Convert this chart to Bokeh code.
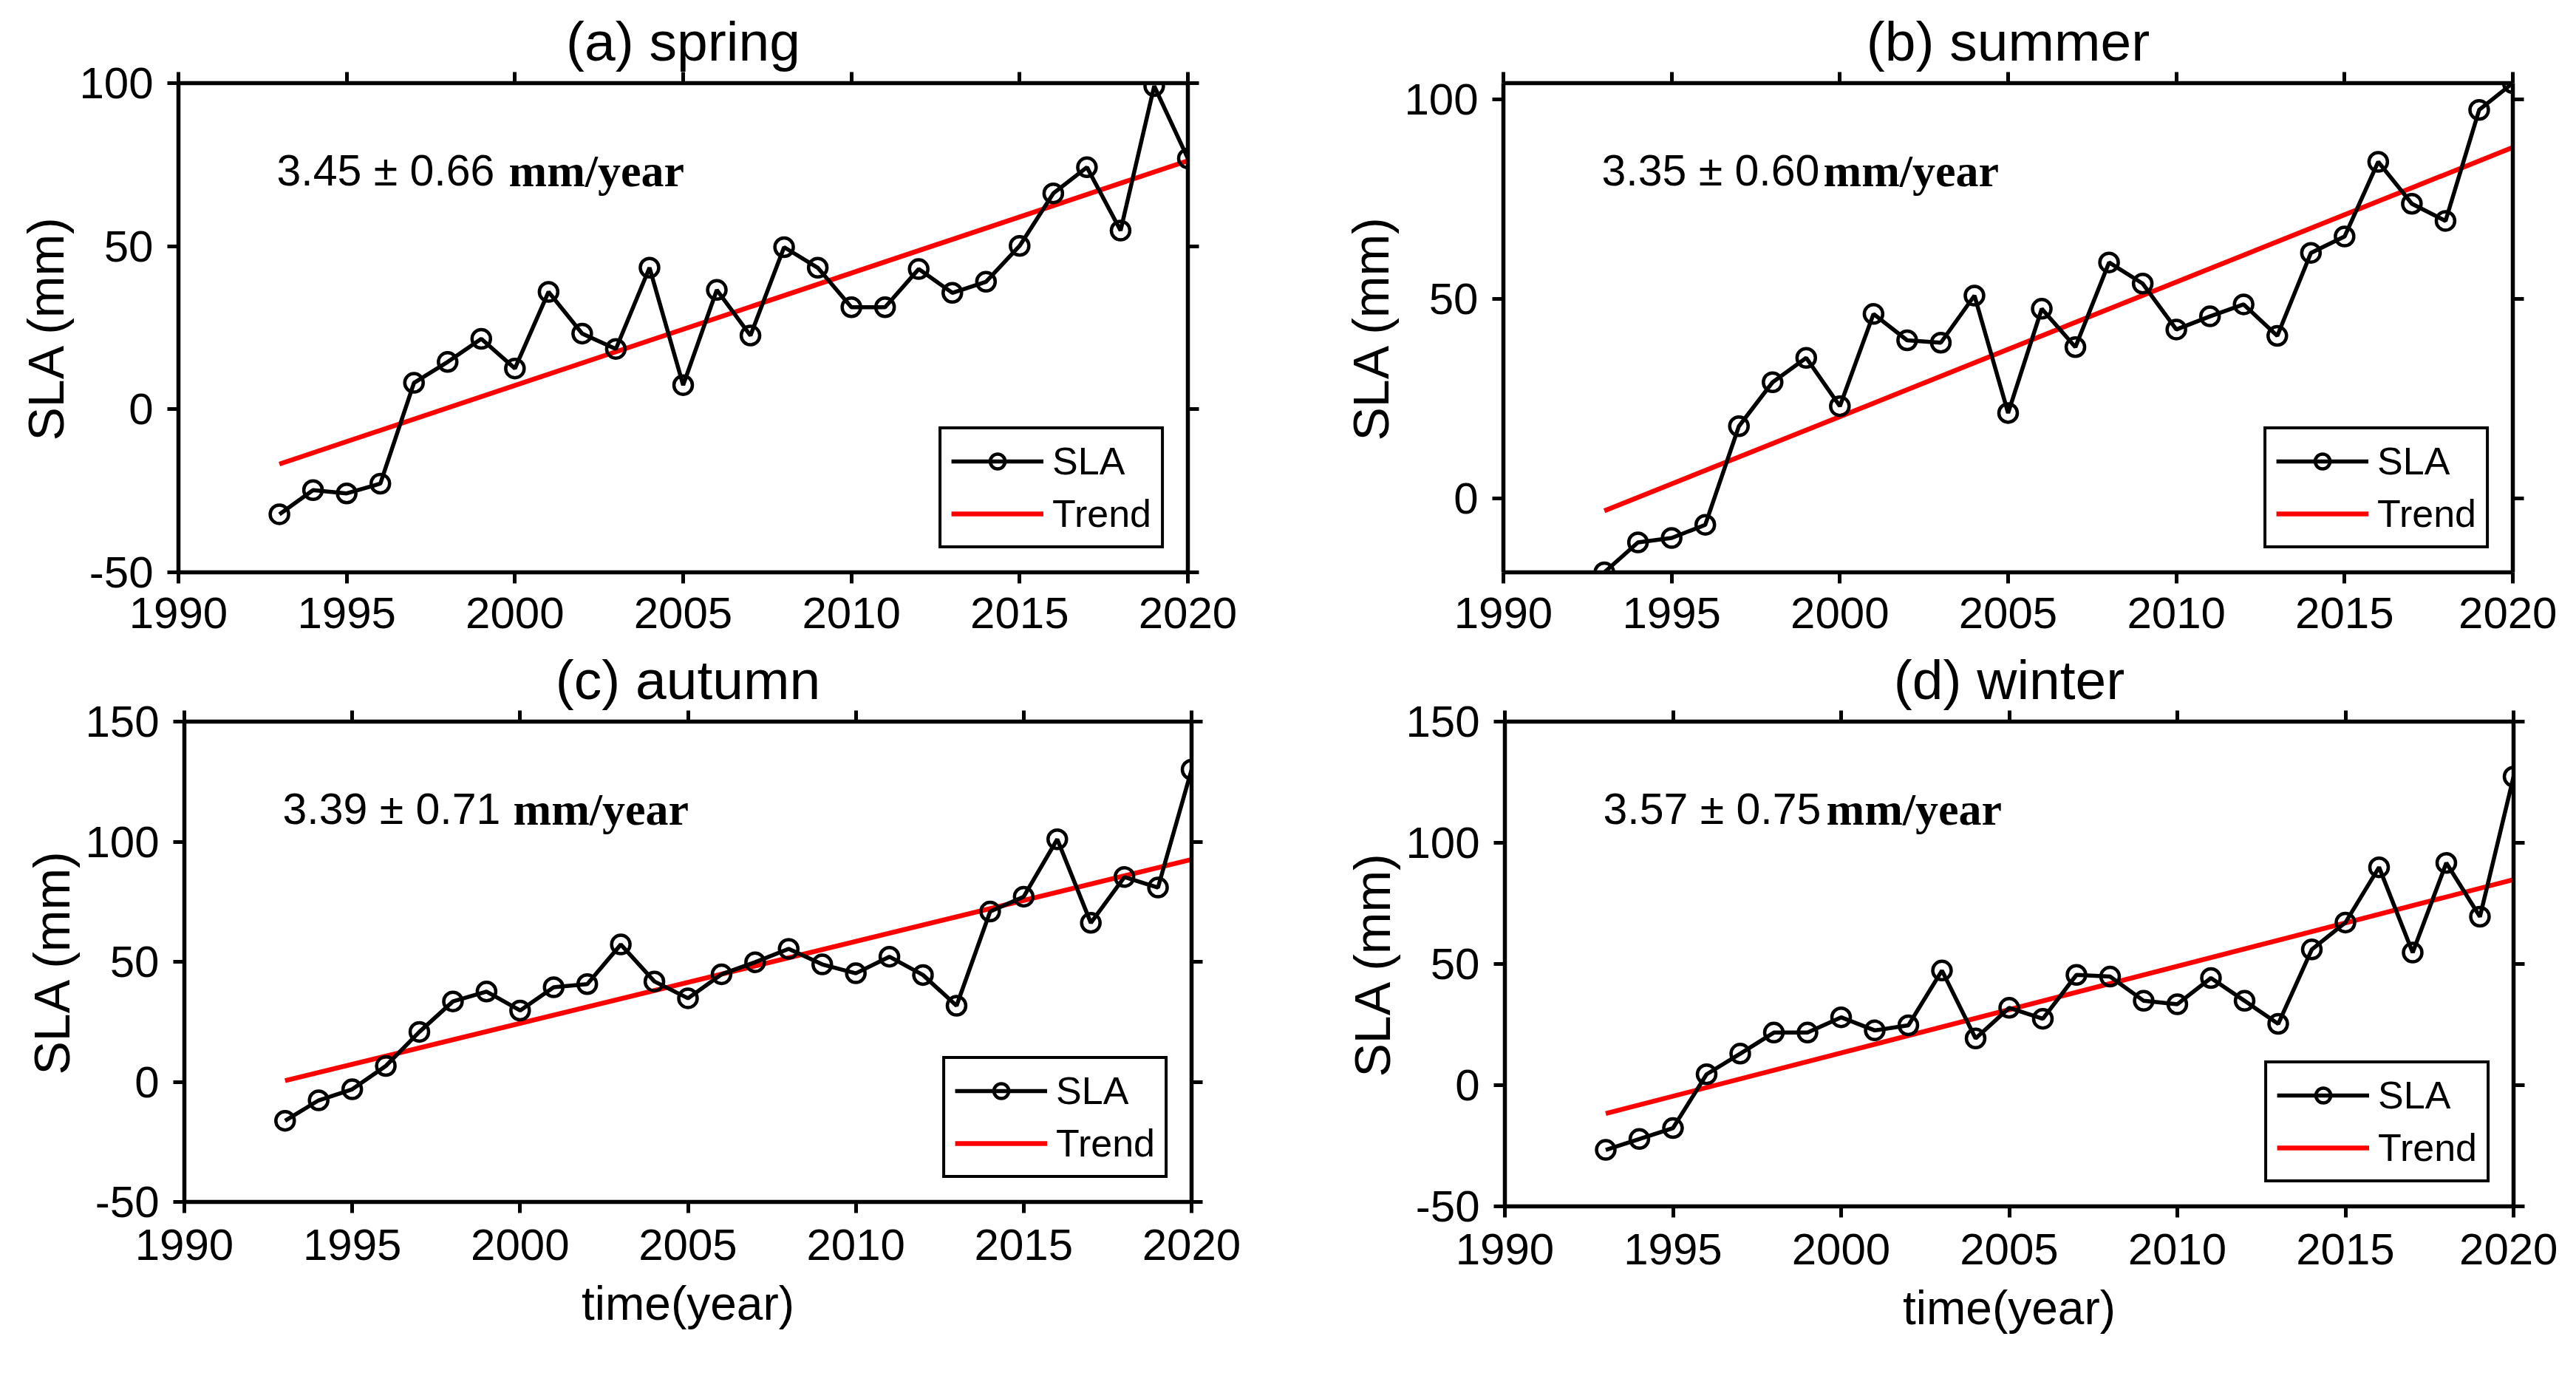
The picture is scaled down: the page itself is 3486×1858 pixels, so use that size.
from bokeh.plotting import figure
from bokeh.models import Range1d, LinearAxis, FixedTicker, Label, Legend, LegendItem
from bokeh.layouts import column, row
from bokeh.embed import file_html
from bokeh.resources import INLINE

# ---------------- data ----------------
years = list(range(1993, 2021))
sla_spring = [-32.2, -24.8, -25.8, -22.8, 8.1, 14.5, 21.6, 12.5, 36.0, 23.2, 18.5, 43.4, 7.4, 36.6,
              22.6, 49.7, 43.4, 31.3, 31.3, 43.0, 35.7, 39.1, 50.1, 66.2, 74.2, 54.8, 99.1, 76.9]
sla_summer = [-18.5, -11.0, -9.9, -6.6, 18.1, 29.1, 35.2, 23.1, 46.2, 39.6, 39.0, 50.8, 21.4, 47.5,
              37.9, 59.1, 53.8, 42.3, 45.6, 48.6, 40.7, 61.5, 65.6, 84.3, 73.8, 69.5, 97.3, 104.0]
sla_autumn = [-16.2, -7.7, -3.1, 6.6, 20.8, 33.5, 37.6, 29.7, 39.4, 40.7, 57.2, 41.8, 34.8, 44.8,
              49.8, 55.4, 48.9, 45.2, 52.1, 44.5, 31.7, 70.9, 77.1, 101.0, 66.2, 85.3, 80.9, 130.0]
sla_winter = [-26.7, -22.2, -17.7, 4.5, 13.0, 21.7, 21.7, 28.0, 22.6, 24.7, 47.3, 19.3, 31.9, 27.4,
              45.5, 44.8, 34.8, 33.4, 44.2, 34.8, 25.3, 56.0, 67.1, 89.9, 54.7, 91.7, 69.5, 127.3]

trend_years = [1993, 2020]
trend_spring = [-16.8, 76.2]
trend_summer = [-3.1, 87.9]
trend_autumn = [0.5, 92.6]
trend_winter = [-11.7, 84.8]

rate_texts = ["3.45 \u00b1 0.66", "3.35 \u00b1 0.60", "3.39 \u00b1 0.71", "3.57 \u00b1 0.75"]
unit_text = "mm/year"
titles = ["(a) spring", "(b) summer", "(c) autumn", "(d) winter"]
legend_labels = ["SLA", "Trend"]
x_label = "time(year)"
y_label = "SLA (mm)"

x_ticks = [1990, 1995, 2000, 2005, 2010, 2015, 2020]
y_ticks_a = [-50, 0, 50, 100]
y_ticks_b = [0, 50, 100]
y_ticks_cd = [-50, 0, 50, 100, 150]

FONT = "Liberation Sans"


def style_axis(ax):
    ax.axis_line_width = 5.5
    ax.axis_line_color = "black"
    ax.major_tick_line_width = 5
    ax.major_tick_line_color = "black"
    ax.major_tick_out = 15
    ax.major_tick_in = 0
    ax.minor_tick_line_width = 5
    ax.minor_tick_line_color = "black"
    ax.minor_tick_out = 15
    ax.minor_tick_in = 0
    ax.major_label_text_font = FONT
    ax.major_label_text_color = "black"
    ax.major_label_text_font_size = "60px"
    ax.axis_label_text_font = FONT
    ax.axis_label_text_font_style = "normal"
    ax.axis_label_text_color = "black"


def panel(title, sla, trend, rate, y0, y1, yticks, fw, fh, bl, br, bt, bb, unit_dx,
          show_xlabel, x_standoff):
    p = figure(frame_width=fw, frame_height=fh,
               x_range=Range1d(1990, 2020), y_range=Range1d(y0, y1),
               output_backend="svg", toolbar_location=None,
               min_border_left=bl, min_border_right=br,
               min_border_top=bt, min_border_bottom=bb,
               background_fill_color="white", border_fill_color="white")
    p.xgrid.visible = False
    p.ygrid.visible = False
    p.outline_line_color = None

    p.title.text = title
    p.title.text_font = FONT
    p.title.text_font_size = "75px"
    p.title.text_font_style = "normal"
    p.title.text_color = "black"
    p.title.align = "center"
    p.title.standoff = 0

    p.xaxis.ticker = FixedTicker(ticks=x_ticks, minor_ticks=[])
    p.yaxis.ticker = FixedTicker(ticks=yticks, minor_ticks=[])
    p.yaxis.major_label_overrides = {t: str(t) for t in yticks}
    for ax in p.xaxis:
        style_axis(ax)
        ax.major_label_standoff = x_standoff
        if show_xlabel:
            ax.axis_label = x_label
            ax.axis_label_text_font_size = "64px"
            ax.axis_label_standoff = 20
    for ax in p.yaxis:
        style_axis(ax)
        ax.major_label_standoff = 19
        ax.axis_label = y_label
        ax.axis_label_text_font_size = "68px"
        ax.axis_label_standoff = 4

    # box axes on top and right: ticks only (as minor ticks, so no labels)
    top = LinearAxis(ticker=FixedTicker(ticks=[], minor_ticks=x_ticks))
    style_axis(top)
    p.add_layout(top, "above")
    right = LinearAxis(ticker=FixedTicker(ticks=[], minor_ticks=yticks))
    style_axis(right)
    p.add_layout(right, "right")

    tr = p.line(trend_years, trend, line_color="#ff0000", line_width=6.5)
    ln = p.line(years, sla, line_color="black", line_width=5.5)
    sc = p.scatter(years, sla, marker="circle", size=25, line_color="black",
                   line_width=4.5, fill_color=None)

    # annotation text
    ty = y1 - 118.0 / fh * (y1 - y0)
    tx = 1990 + 133.0 / fw * 30
    ux = 1990 + unit_dx / fw * 30
    p.add_layout(Label(x=tx, y=ty, text=rate, text_font=FONT, text_font_size="59px",
                       text_color="black", text_baseline="alphabetic", text_align="left"))
    p.add_layout(Label(x=ux, y=ty, text=unit_text, text_font="Liberation Serif",
                       text_font_style="bold", text_font_size="62px",
                       text_color="black", text_baseline="alphabetic", text_align="left"))

    leg = Legend(items=[LegendItem(label=legend_labels[0], renderers=[ln, sc]),
                        LegendItem(label=legend_labels[1], renderers=[tr])],
                 location="bottom_right", margin=32,
                 border_line_color="black", border_line_width=4.5, border_line_alpha=1,
                 background_fill_color="white", background_fill_alpha=1,
                 label_text_font=FONT, label_text_font_size="52px", label_text_color="black",
                 glyph_width=125, glyph_height=50, label_standoff=12,
                 padding=13, spacing=11)
    p.add_layout(leg)
    return p


pa = panel(titles[0], sla_spring, trend_spring, rate_texts[0], -50, 100, y_ticks_a,
           1366, 662, 241, 135, 112, 101, 447, False, 19)
pb = panel(titles[1], sla_summer, trend_summer, rate_texts[1], min(sla_summer), max(sla_summer),
           y_ticks_b, 1366, 662, 292, 60, 112, 101, 433, False, 19)
pc = panel(titles[2], sla_autumn, trend_autumn, rate_texts[2], -50, 150, y_ticks_cd,
           1363, 650, 249, 130, 98, 200, 445, True, 22)
pd = panel(titles[3], sla_winter, trend_winter, rate_texts[3], -50, 150, y_ticks_cd,
           1365, 656, 294, 60, 98, 200, 435, True, 22)

layout = column(row(pa, pb), row(pc, pd))
open("out.html", "w").write(file_html(layout, INLINE))
